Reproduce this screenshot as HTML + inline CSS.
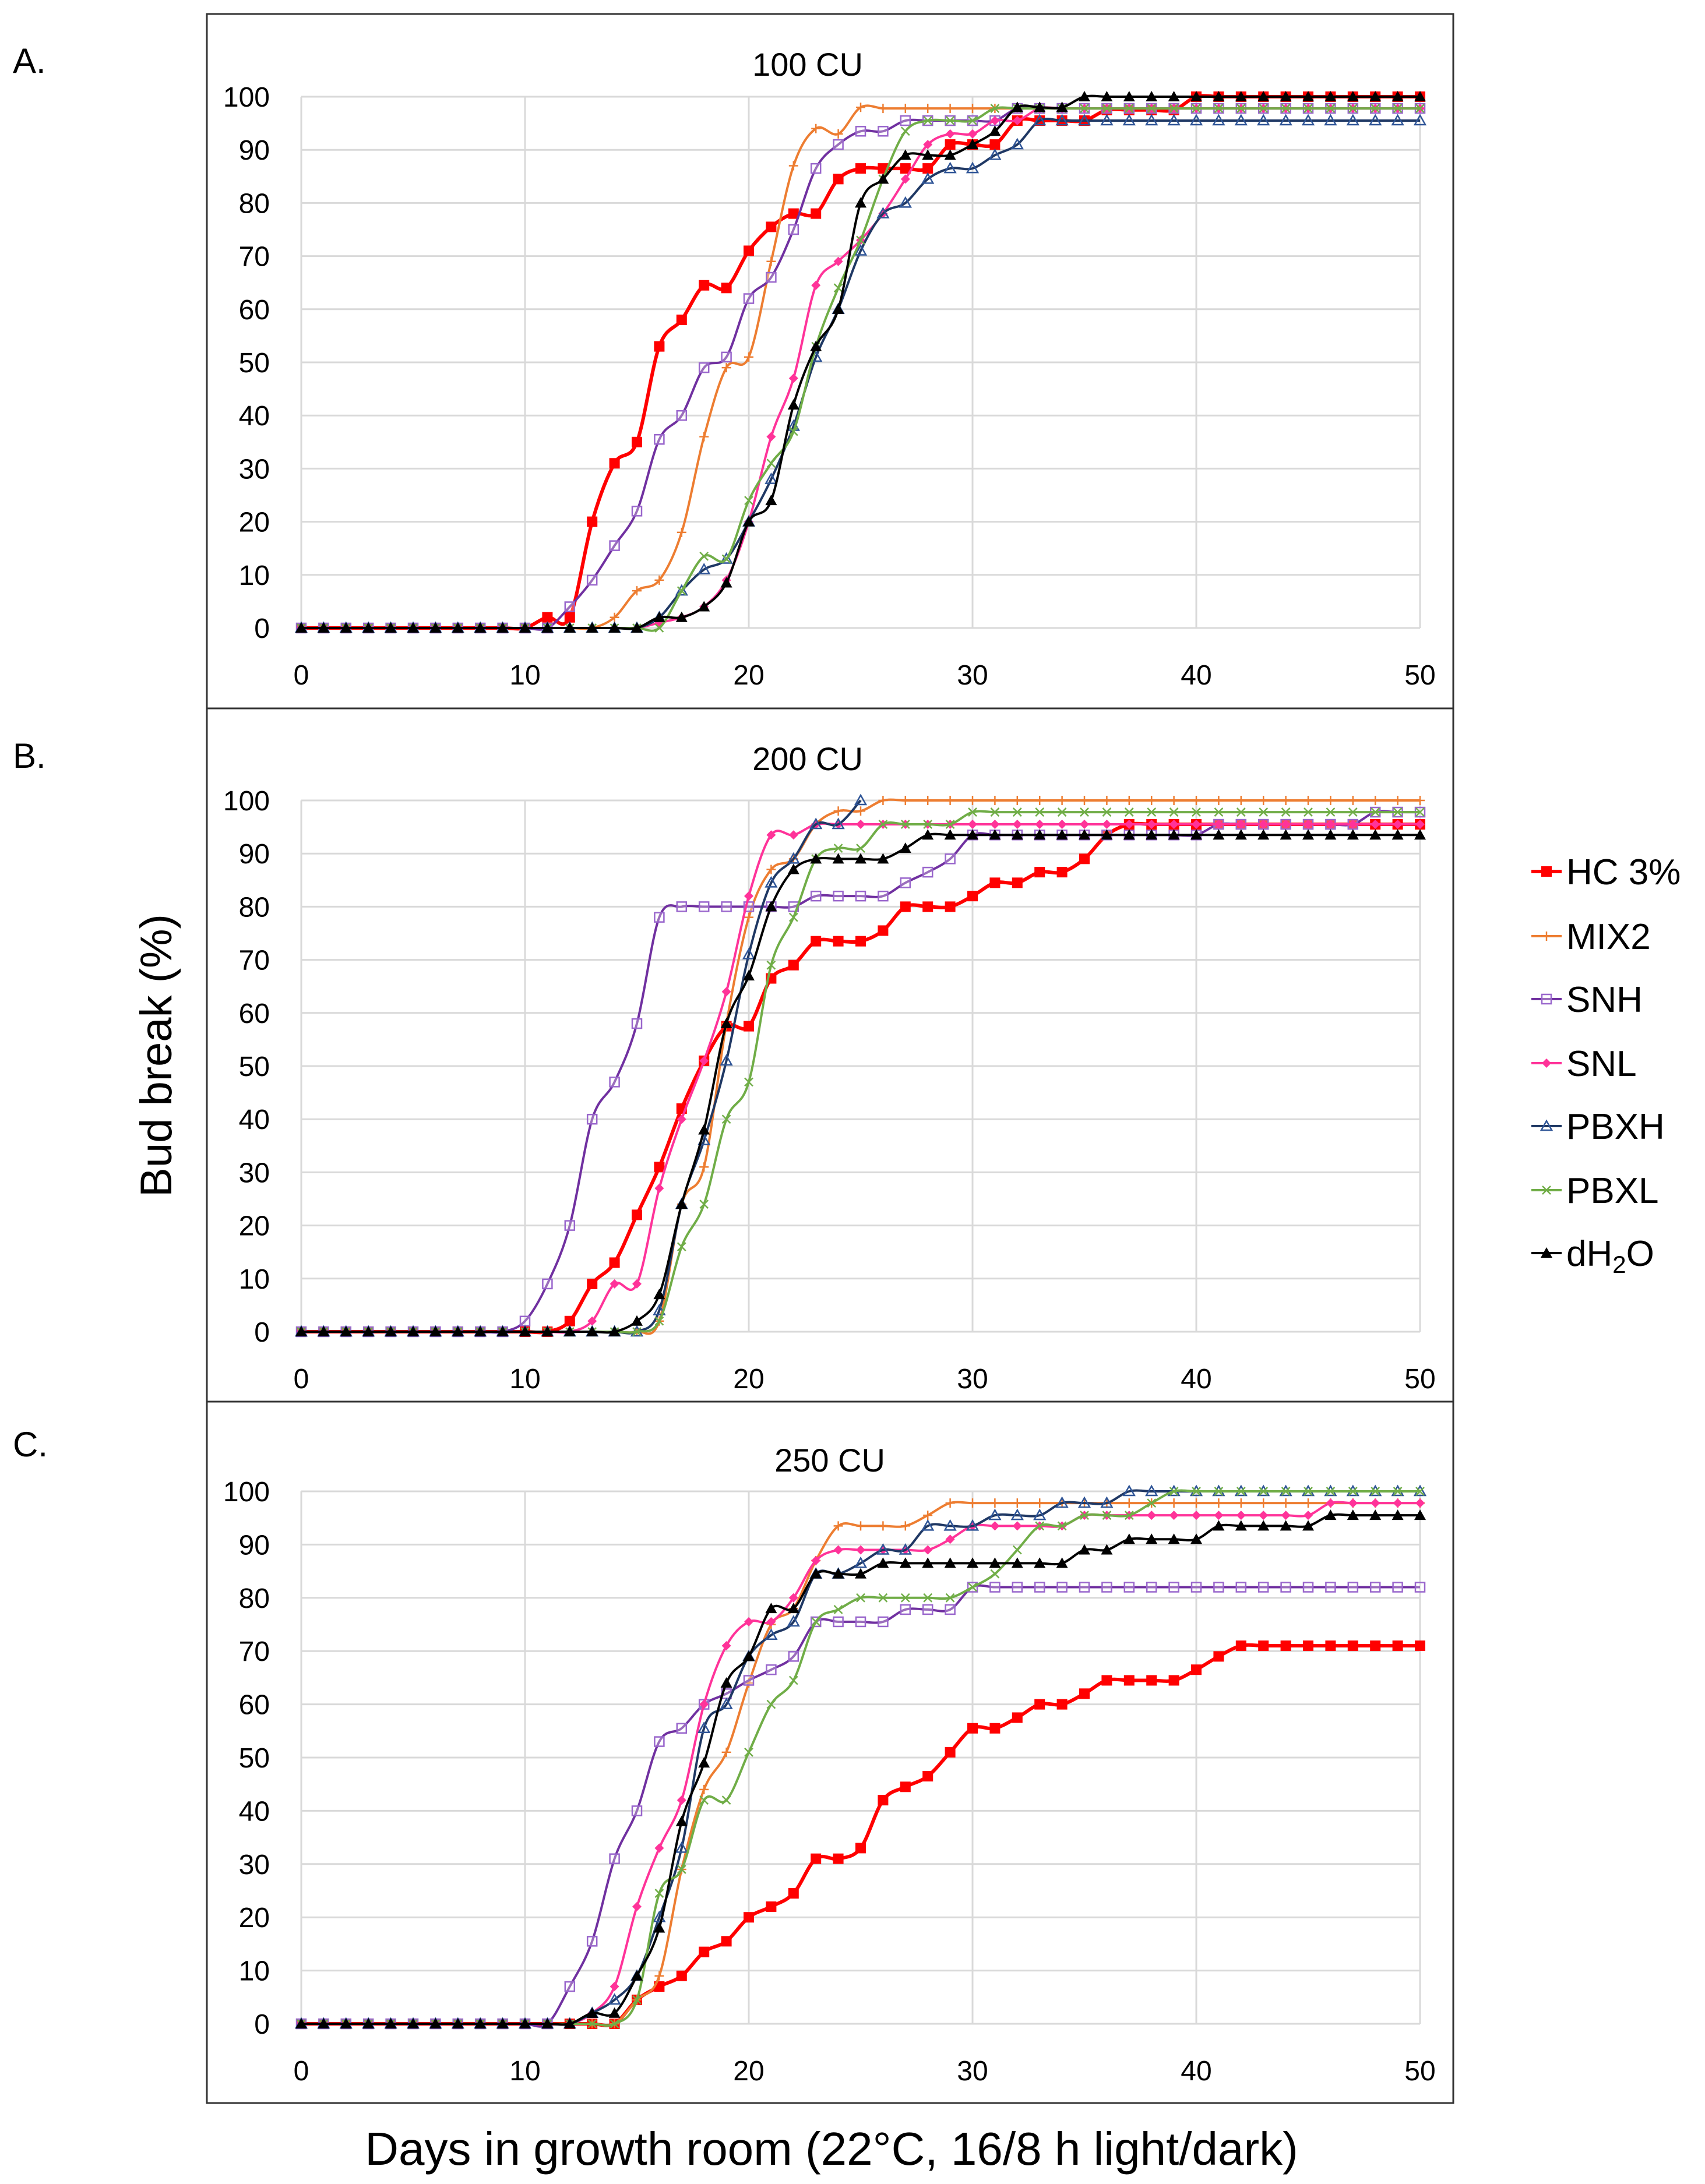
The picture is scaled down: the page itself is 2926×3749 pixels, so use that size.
<!DOCTYPE html>
<html><head><meta charset="utf-8">
<style>
html,body{margin:0;padding:0;background:#fff;}
svg{display:block;font-family:"Liberation Sans",sans-serif;}
</style></head>
<body>
<svg id="chart" width="2926" height="3749" viewBox="0 0 2926 3749" xmlns="http://www.w3.org/2000/svg">
<rect x="0" y="0" width="2926" height="3749" fill="#fff"/>
<text x="0" y="0" transform="translate(294,1812) rotate(-90)" text-anchor="middle" font-size="76" fill="#000">Bud break (%)</text>
<text x="1427" y="3716" text-anchor="middle" font-size="80" fill="#000">Days in growth room (22°C, 16/8 h light/dark)</text>
<g id="panels"></g>
<g id="legend"></g>
</svg>
<script>
const xTicks=[0,10,20,30,40,50];
const yTicks=[0,10,20,30,40,50,60,70,80,90,100];
const panelTitles=["100 CU","200 CU","250 CU"];
const panelLetters=["A.","B.","C."];
const seriesNames=["HC 3%","MIX2","SNH","SNL","PBXH","PBXL","dH2O"];

const hcA=[0,0,0,0,0,0,0,0,0,0,0,2,2,20,31,35,53,58,64.5,64,71,75.5,78,78,84.5,86.5,86.5,86.5,86.5,91,91,91,95.5,95.5,95.5,95.5,97.5,97.5,97.5,97.5,100,100,100,100,100,100,100,100,100,100,100];
const mixA=[0,0,0,0,0,0,0,0,0,0,0,0,0,0,2,7,9,18,36,49,51,69,87,94,93,98,97.8,97.8,97.8,97.8,97.8,97.8,97.8,97.8,97.8,97.8,97.8,97.8,97.8,97.8,97.8,97.8,97.8,97.8,97.8,97.8,97.8,97.8,97.8,97.8,97.8];
const snhA=[0,0,0,0,0,0,0,0,0,0,0,0,4,9,15.5,22,35.5,40,49,51,62,66,75,86.5,91,93.5,93.5,95.5,95.5,95.5,95.5,95.5,97.8,97.8,97.8,97.8,97.8,97.8,97.8,97.8,97.8,97.8,97.8,97.8,97.8,97.8,97.8,97.8,97.8,97.8,97.8];
const snlA=[0,0,0,0,0,0,0,0,0,0,0,0,0,0,0,0,1,2,4,9,20,36,47,64.5,69,73,78,84.5,91,93,93,95.5,95.5,97.8,97.8,97.8,97.8,97.8,97.8,97.8,97.8,97.8,97.8,97.8,97.8,97.8,97.8,97.8,97.8,97.8,97.8];
const pbxhA=[0,0,0,0,0,0,0,0,0,0,0,0,0,0,0,0,2,7,11,13,20,28,38,51,60,71,78,80,84.5,86.5,86.5,89,91,95.5,95.5,95.5,95.5,95.5,95.5,95.5,95.5,95.5,95.5,95.5,95.5,95.5,95.5,95.5,95.5,95.5,95.5];
const pbxlA=[0,0,0,0,0,0,0,0,0,0,0,0,0,0,0,0,0,7,13.5,13,24,31,37,53,64,73,84.5,93.5,95.5,95.5,95.5,97.8,97.8,97.8,97.8,97.8,97.8,97.8,97.8,97.8,97.8,97.8,97.8,97.8,97.8,97.8,97.8,97.8,97.8,97.8,97.8];
const dwA=[0,0,0,0,0,0,0,0,0,0,0,0,0,0,0,0,2,2,4,8.5,20,24,42,53,60,80,84.5,89,89,89,91,93.5,98,98,98,100,100,100,100,100,100,100,100,100,100,100,100,100,100,100,100];

const hcB=[0,0,0,0,0,0,0,0,0,0,0,0,2,9,13,22,31,42,51,57.5,57.5,66.5,69,73.5,73.5,73.5,75.5,80,80,80,82,84.5,84.5,86.5,86.5,89,93.5,95.5,95.5,95.5,95.5,95.5,95.5,95.5,95.5,95.5,95.5,95.5,95.5,95.5,95.5];
const mixB=[0,0,0,0,0,0,0,0,0,0,0,0,0,0,0,0,2,24,31,58,78,87,89,95.5,98,98,100,100,100,100,100,100,100,100,100,100,100,100,100,100,100,100,100,100,100,100,100,100,100,100,100];
const snhB=[0,0,0,0,0,0,0,0,0,0,2,9,20,40,47,58,78,80,80,80,80,80,80,82,82,82,82,84.5,86.5,89,93.5,93.5,93.5,93.5,93.5,93.5,93.5,93.5,93.5,93.5,93.5,95.5,95.5,95.5,95.5,95.5,95.5,95.5,97.8,97.8,97.8];
const snlB=[0,0,0,0,0,0,0,0,0,0,0,0,0,2,9,9,27,40,51,64,82,93.5,93.5,95.5,95.5,95.5,95.5,95.5,95.5,95.5,95.5,95.5,95.5,95.5,95.5,95.5,95.5,95.5,95.5,95.5,95.5,95.5,95.5,95.5,95.5,95.5,95.5,95.5,95.5,95.5,95.5];
const pbxhB=[0,0,0,0,0,0,0,0,0,0,0,0,0,0,0,0,4,24,36,51,71,84.5,89,95.5,95.5,100,null,null,null,null,null,null,null,null,null,null,null,null,null,null,null,null,null,null,null,null,null,null,null,null,null];
const pbxlB=[0,0,0,0,0,0,0,0,0,0,0,0,0,0,0,0,2,16,24,40,47,69,78,89,91,91,95.5,95.5,95.5,95.5,97.8,97.8,97.8,97.8,97.8,97.8,97.8,97.8,97.8,97.8,97.8,97.8,97.8,97.8,97.8,97.8,97.8,97.8,97.8,97.8,97.8];
const dwB=[0,0,0,0,0,0,0,0,0,0,0,0,0,0,0,2,7,24,38,58,67,80,87,89,89,89,89,91,93.5,93.5,93.5,93.5,93.5,93.5,93.5,93.5,93.5,93.5,93.5,93.5,93.5,93.5,93.5,93.5,93.5,93.5,93.5,93.5,93.5,93.5,93.5];

const hcC=[0,0,0,0,0,0,0,0,0,0,0,0,0,0,0,4.5,7,9,13.5,15.5,20,22,24.5,31,31,33,42,44.5,46.5,51,55.5,55.5,57.5,60,60,62,64.5,64.5,64.5,64.5,66.5,69,71,71,71,71,71,71,71,71,71];
const mixC=[0,0,0,0,0,0,0,0,0,0,0,0,0,0,0,4.5,9,29,44,51,64,75,78,87,93.5,93.5,93.5,93.5,95.5,97.8,97.8,97.8,97.8,97.8,97.8,97.8,97.8,97.8,97.8,97.8,97.8,97.8,97.8,97.8,97.8,97.8,97.8,97.8,97.8,97.8,97.8];
const snhC=[0,0,0,0,0,0,0,0,0,0,0,0,7,15.5,31,40,53,55.5,60,62,64.5,66.5,69,75.5,75.5,75.5,75.5,77.8,77.8,77.8,82,82,82,82,82,82,82,82,82,82,82,82,82,82,82,82,82,82,82,82,82];
const snlC=[0,0,0,0,0,0,0,0,0,0,0,0,0,2,7,22,33,42,60,71,75.5,75.5,80,87,89,89,89,89,89,91,93.5,93.5,93.5,93.5,93.5,95.5,95.5,95.5,95.5,95.5,95.5,95.5,95.5,95.5,95.5,95.5,97.8,97.8,97.8,97.8,97.8];
const pbxhC=[0,0,0,0,0,0,0,0,0,0,0,0,0,2,4.5,9,20,33,55.5,60,69,73,75.5,84.5,84.5,86.5,89,89,93.5,93.5,93.5,95.5,95.5,95.5,97.8,97.8,97.8,100,100,100,100,100,100,100,100,100,100,100,100,100,100];
const pbxlC=[0,0,0,0,0,0,0,0,0,0,0,0,0,0,0,4.5,24.5,29,42,42,51,60,64.5,75.5,77.8,80,80,80,80,80,82,84.5,89,93.5,93.5,95.5,95.5,95.5,97.8,100,100,100,100,100,100,100,100,100,100,100,100];
const dwC=[0,0,0,0,0,0,0,0,0,0,0,0,0,2,2,9,18,38,49,64,69,78,78,84.5,84.5,84.5,86.5,86.5,86.5,86.5,86.5,86.5,86.5,86.5,86.5,89,89,91,91,91,91,93.5,93.5,93.5,93.5,93.5,95.5,95.5,95.5,95.5,95.5];

const panelData=[[hcA,mixA,snhA,snlA,pbxhA,pbxlA,dwA],[hcB,mixB,snhB,snlB,pbxhB,pbxlB,dwB],[hcC,mixC,snhC,snlC,pbxhC,pbxlC,dwC]];

const NS="http://www.w3.org/2000/svg";
const colors=["#ff0000","#ed7d31","#7030a0","#ff3399","#1f3864","#70ad47","#000000"];
const widths=[6,4,4,4,4,4,4];
const boxTop=[24,1216,2406], boxBot=[1216,2406,3610];
const y100=[166,1374,2560], y0=[1078,2286,3474];
const titleY=[130,1322,2526], titleX=[1386,1386,1424];
const X0=517,X50=2437;
function xS(d){return X0+(X50-X0)*d/50;}
function mk(tag,attrs,parent){const e=document.createElementNS(NS,tag);for(const k in attrs)e.setAttribute(k,attrs[k]);parent.appendChild(e);return e;}
function marker(g,k,x,y,c){
  let e;
  if(k===0){e=mk('rect',{x:x-9,y:y-9,width:18,height:18,fill:c},g);}
  else if(k===1){e=mk('path',{d:`M${x-8},${y}H${x+8}M${x},${y-8}V${y+8}`,stroke:c,'stroke-width':2.5},g);}
  else if(k===2){e=mk('rect',{x:x-8,y:y-8,width:16,height:16,fill:'#fff','fill-opacity':0.3,stroke:'#9966cc','stroke-width':2.5},g);}
  else if(k===3){e=mk('path',{d:`M${x},${y-8}L${x+8},${y}L${x},${y+8}L${x-8},${y}Z`,fill:c},g);}
  else if(k===4){e=mk('path',{d:`M${x},${y-9}L${x+9},${y+7}L${x-9},${y+7}Z`,fill:'none',stroke:'#2f5597','stroke-width':2.5},g);}
  else if(k===5){e=mk('path',{d:`M${x-7},${y-7}L${x+7},${y+7}M${x+7},${y-7}L${x-7},${y+7}`,stroke:c,'stroke-width':2.5},g);}
  else {e=mk('path',{d:`M${x},${y-10}L${x+10},${y+8}L${x-10},${y+8}Z`,fill:c},g);}
  
  
}
function smooth(pts){
  let d=`M${pts[0][0]},${pts[0][1]}`;
  for(let i=0;i<pts.length-1;i++){
    const p0=pts[Math.max(0,i-1)],p1=pts[i],p2=pts[i+1],p3=pts[Math.min(pts.length-1,i+2)];
    const t=1/6;
    d+=` C${p1[0]+(p2[0]-p0[0])*t},${p1[1]+(p2[1]-p0[1])*t} ${p2[0]-(p3[0]-p1[0])*t},${p2[1]-(p3[1]-p1[1])*t} ${p2[0]},${p2[1]}`;
  }
  return d;
}
const panels=document.getElementById('panels');
for(let p=0;p<3;p++){
  const g=mk('g',{},panels);
  
  
  const yS=v=>y0[p]+(y100[p]-y0[p])*v/100;
  const box=mk('rect',{x:355,y:boxTop[p],width:2139,height:boxBot[p]-boxTop[p],fill:'#fff',stroke:'#333','stroke-width':3},g);
  
  
  const lt=mk('text',{x:22,y:[125,1318,2500][p],'font-size':60},g);lt.textContent=panelLetters[p];
  
  
  const tt=mk('text',{x:titleX[p],y:titleY[p],'font-size':56,'text-anchor':'middle'},g);tt.textContent=panelTitles[p];
  
  
  for(const v of yTicks){
    const l=mk('line',{x1:X0,x2:X50,y1:yS(v),y2:yS(v),stroke:'#d9d9d9','stroke-width':3},g);
    
    
    const t=mk('text',{x:463,y:yS(v)+17,'font-size':48,'text-anchor':'end'},g);t.textContent=v;
    
    
  }
  for(const v of xTicks){
    const l=mk('line',{x1:xS(v),x2:xS(v),y1:y100[p],y2:y0[p],stroke:'#d9d9d9','stroke-width':3},g);
    
    
    const t=mk('text',{x:xS(v),y:y0[p]+97,'font-size':48,'text-anchor':'middle'},g);t.textContent=v;
    
    
  }
  for(let k=0;k<7;k++){
    const s=panelData[p][k];
    const pts=[];
    s.forEach((v,i)=>{if(v!==null)pts.push([xS(i),yS(v)]);});
    const sg=mk('g',{},g);
    
    
    const path=mk('path',{d:smooth(pts),fill:'none',stroke:colors[k],'stroke-width':widths[k],'stroke-linejoin':'round'},sg);
    
    
    pts.forEach(q=>marker(sg,k,q[0],q[1],colors[k]));
  }
}
const leg=document.getElementById('legend');
const legY=[1496,1607,1715,1825,1933,2043,2151];
for(let k=0;k<7;k++){
  const eg=mk('g',{},leg);
  
  
  mk('line',{x1:2628,x2:2680,y1:legY[k],y2:legY[k],stroke:colors[k],'stroke-width':widths[k]},eg);
  marker(eg,k,2654,legY[k],colors[k]);
  const t=mk('text',{x:2688,y:legY[k]+22,'font-size':62},eg);
  if(k===6){t.innerHTML='dH<tspan font-size="42" dy="12">2</tspan><tspan dy="-12">O</tspan>';}
  else t.textContent=seriesNames[k];
  
  
}
</script>
</body></html>
